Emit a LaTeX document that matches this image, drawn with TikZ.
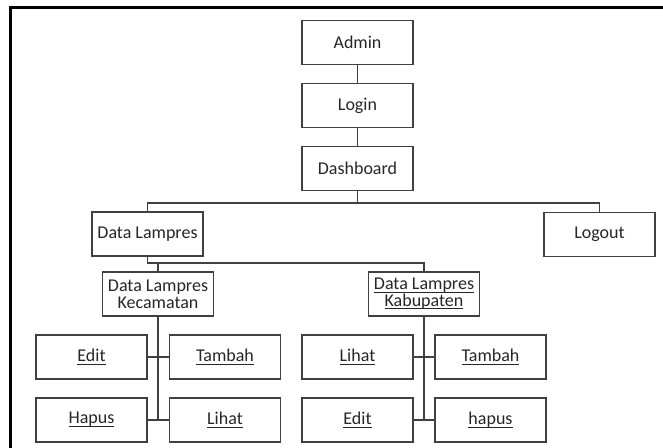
\documentclass[tikz,border=0pt]{standalone}
\usepackage{fontspec}
\setmainfont{Carlito}
\newcommand{\menuline}[1]{\underline{\smash{#1}}\vphantom{#1}}
\tikzset{%
  menubox/.style = {shape=rectangle, draw=black!75, line width=0.6pt,%
                    minimum width=55.5pt, minimum height=22pt,%
                    inner sep=1pt, align=center, text=black!85,%
                    font=\fontsize{9}{8.3}\selectfont},%
  link/.style    = {draw=black!75, line width=0.6pt}%
}
\begin{document}
\begin{tikzpicture}[x=0.5pt,y=-0.5pt]
		\useasboundingbox (0,0) rectangle (663,448);
		% frame
		\draw[line width=1.2pt] (10.5,448) -- (10.5,7.5) -- (663,7.5);
		\node[menubox] (admin) at (357.5,42.5) {Admin};
		\node[menubox] (login) at (357.5,105.5) {Login};
		\node[menubox] (dash) at (357.5,168.5) {Dashboard};
		\node[menubox] (lampres) at (147.5,234) {Data Lampres};
		\node[menubox] (logout) at (599.5,234.5) {Logout};
		\node[menubox] (kec) at (158,294) {Data Lampres\\Kecamatan};
		\node[menubox] (kab) at (424,294) {\menuline{Data Lampres}\\\menuline{Kabupaten}};
		\node[menubox] (editA) at (91.5,357) {\menuline{Edit}};
		\node[menubox] (tambahA) at (225,357) {\menuline{Tambah}};
		\node[menubox] (hapusA) at (91.5,420) {\menuline{Hapus}};
		\node[menubox] (lihatA) at (225,420) {\menuline{Lihat}};
		\node[menubox] (lihatB) at (357.5,357) {\menuline{Lihat}};
		\node[menubox] (tambahB) at (490.5,357) {\menuline{Tambah}};
		\node[menubox] (editB) at (357.5,420) {\menuline{Edit}};
		\node[menubox] (hapusB) at (490.5,420) {\menuline{hapus}};
		\coordinate (bus1) at (357.5,203);
		\coordinate (bus2) at (147.5,263);
		\path[link] (admin) -- (login);
		\path[link] (login) -- (dash);
		\path[link] (dash) -- (bus1) -| (lampres);
		\path[link] (bus1) -| (logout);
		\path[link] (lampres) -- (bus2) -| (kab);
		\path[link] (bus2 -| kec.north) -- (kec);
		% sub menus
		\path[link] (kec) -- (kec.south |- lihatA.west);
		\path[link] (editA) -- (tambahA);
		\path[link] (hapusA) -- (lihatA);
		\path[link] (kab) -- (kab.south |- hapusB.west);
		\path[link] (lihatB) -- (tambahB);
		\path[link] (editB) -- (hapusB);
	\end{tikzpicture}
\end{document}
